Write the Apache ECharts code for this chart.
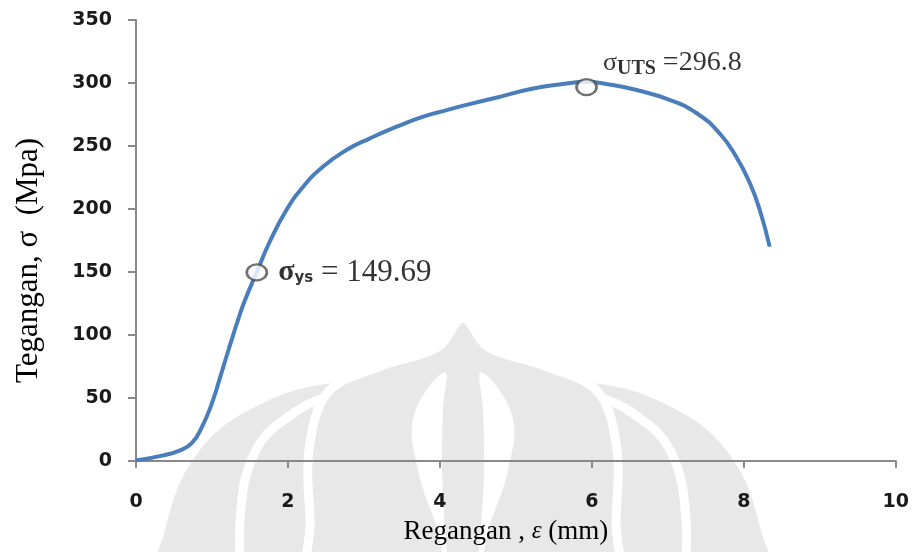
<!DOCTYPE html>
<html>
<head>
<meta charset="utf-8">
<script src="https://cdn.jsdelivr.net/npm/echarts@6/dist/echarts.min.js"></script>
<style>
  html, body { margin: 0; padding: 0; background: #ffffff; }
  #chart { width: 912px; height: 552px; }
</style>
</head>
<body>
<div id="chart"></div>
<script>
// Stress–strain curve of the tensile test specimen
const strain = [0, 0.36, 0.58, 0.73, 0.86, 1.00, 1.13, 1.24, 1.34, 1.43, 1.59, 1.76, 1.98, 2.20, 2.46, 2.77, 3.08, 3.43, 3.78, 4.09, 4.31, 4.75, 5.18, 5.62, 5.93, 6.19, 6.59, 7.03, 7.38, 7.68, 7.90, 8.08, 8.21, 8.34];
const stress = [0.5, 4.5, 8.5, 14.0, 26.0, 46.0, 71.0, 92.5, 111.5, 127.0, 150.0, 174.0, 199.2, 217.7, 233.6, 246.8, 256.1, 265.3, 273.3, 278.5, 282.0, 288.5, 295.0, 299.2, 301.0, 299.2, 294.4, 286.5, 276.0, 260.1, 241.5, 220.4, 199.2, 170.1];

// Yield strength and ultimate tensile strength (MPa)
const yieldPoint = [1.59, 149.69];
const utsPoint = [5.93, 296.8];

const xTicks = [0, 2, 4, 6, 8, 10];
const yTicks = [0, 50, 100, 150, 200, 250, 300, 350];

const curve = strain.map((x, i) => [x, stress[i]]);

const chart = echarts.init(document.getElementById('chart'));

const tickFont = { fontFamily: 'DejaVu Sans', fontWeight: 'bold', fontSize: 19, color: '#1a1a1a' };

chart.setOption({
  animation: false,
  backgroundColor: '#ffffff',
  grid: { left: 136, right: 16, top: 20, bottom: 91, containLabel: false },
  xAxis: {
    type: 'value',
    min: xTicks[0], max: xTicks[xTicks.length - 1], interval: 2,
    name: 'Regangan , {e|ε} (mm)',
    nameLocation: 'middle',
    nameGap: 57,
    nameTextStyle: {
      fontFamily: 'Liberation Serif', fontSize: 27, color: '#000', padding: [0, 20, 0, 0],
      rich: { e: { fontFamily: 'Liberation Serif', fontStyle: 'italic', fontSize: 25, color: '#000' } }
    },
    axisLine: { lineStyle: { color: '#898989', width: 2 } },
    axisTick: { show: true, inside: false, length: 7, lineStyle: { color: '#898989', width: 2 } },
    axisLabel: Object.assign({ margin: 32 }, tickFont),
    splitLine: { show: false }
  },
  yAxis: {
    type: 'value',
    min: yTicks[0], max: yTicks[yTicks.length - 1], interval: 50,
    name: 'Tegangan, σ  (Mpa)',
    nameLocation: 'middle',
    nameGap: 92,
    nameTextStyle: { fontFamily: 'Liberation Serif', fontSize: 31, color: '#000', padding: [0, 40, 0, 0] },
    axisLine: { show: true, lineStyle: { color: '#898989', width: 2 } },
    axisTick: { show: true, inside: false, length: 8, lineStyle: { color: '#898989', width: 2 } },
    axisLabel: Object.assign({ margin: 24 }, tickFont),
    splitLine: { show: false }
  },
  series: [
    {
      type: 'line',
      data: curve,
      smooth: 0.5,
      showSymbol: false,
      lineStyle: { color: '#4a7ebb', width: 4 },
      z: 2
    },
    {
      type: 'scatter',
      data: [yieldPoint],
      symbol: 'circle',
      symbolSize: [20, 16],
      itemStyle: { color: '#ffffff', borderColor: '#4d4d4d', borderWidth: 2.5 },
      z: 5,
      label: {
        show: true,
        position: 'right',
        distance: 10,
        formatter: p => '{s|σ}{sub|ys}{v| = ' + p.value[1] + '}',
        rich: {
          s: { fontFamily: 'Liberation Serif', fontSize: 30, fontWeight: 'bold', color: '#000' },
          sub: { fontFamily: 'DejaVu Sans', fontSize: 15, fontWeight: 'bold', color: '#000', padding: [12, 0, 0, 0] },
          v: { fontFamily: 'Liberation Serif', fontSize: 31, color: '#000' }
        }
      }
    },
    {
      type: 'scatter',
      data: [utsPoint],
      symbol: 'circle',
      symbolSize: [20, 16],
      itemStyle: { color: '#ffffff', borderColor: '#4d4d4d', borderWidth: 2.5 },
      z: 5,
      label: {
        show: true,
        position: 'right',
        distance: 5,
        offset: [0, -24],
        formatter: p => '{s|σ}{sub|UTS}{v| =' + p.value[1] + '}',
        rich: {
          s: { fontFamily: 'Liberation Serif', fontSize: 26, color: '#000' },
          sub: { fontFamily: 'Liberation Serif', fontSize: 20, fontWeight: 'bold', color: '#000', padding: [12, 0, 0, 0] },
          v: { fontFamily: 'Liberation Serif', fontSize: 28, color: '#000' }
        }
      }
    }
  ]
});

// faint emblem behind the plot
const wm = '#e8e8e8';
try {
  chart.setOption({
    graphic: {
      elements: [
        { type: 'polygon', z: -10, silent: true,
          shape: { smooth: 0.4, points: [[150, 640], [165, 530], [200, 450], [265, 402], [340, 382], [463, 374], [586, 382], [661, 402], [726, 450], [761, 530], [776, 640]] },
          style: { fill: wm } },
        { type: 'polyline', z: -9, silent: true,
          shape: { smooth: 0.4, points: [[244, 600], [240, 520], [256, 450], [295, 412], [330, 396]] },
          style: { stroke: '#ffffff', lineWidth: 9, fill: null } },
        { type: 'polyline', z: -9, silent: true,
          shape: { smooth: 0.4, points: [[682, 600], [686, 520], [670, 450], [631, 412], [596, 396]] },
          style: { stroke: '#ffffff', lineWidth: 9, fill: null } },
        { type: 'polygon', z: -8, silent: true,
          shape: { smooth: 0.35, points: [[463, 318], [488, 347], [545, 366], [598, 392], [617, 450], [616, 520], [612, 620], [314, 620], [310, 520], [309, 450], [328, 392], [381, 366], [438, 347]] },
          style: { fill: wm, stroke: '#ffffff', lineWidth: 9 } },
        { type: 'polygon', z: -7, silent: true,
          shape: { smooth: 0.4, points: [[445, 372], [414, 415], [418, 470], [440, 540], [446, 600], [452, 600], [446, 540], [442, 470], [443, 410]] },
          style: { fill: '#ffffff' } },
        { type: 'polygon', z: -7, silent: true,
          shape: { smooth: 0.4, points: [[481, 372], [512, 415], [508, 470], [486, 540], [480, 600], [474, 600], [480, 540], [484, 470], [483, 410]] },
          style: { fill: '#ffffff' } }
      ]
    }
  });
} catch (err) {
  // the emblem is decorative only
}
</script>
</body>
</html>
